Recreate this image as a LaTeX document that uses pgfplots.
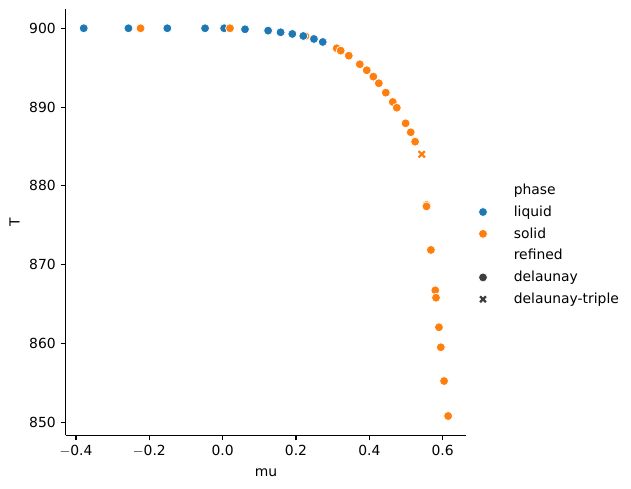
\documentclass[border=0pt]{standalone}
\usepackage{fontspec}
\setmainfont{DejaVu Sans}
\usepackage{pgfplots}
\pgfplotsset{compat=1.18}
\definecolor{sbblue}{HTML}{1F77B4}
\definecolor{sborange}{HTML}{FF7F0E}
\definecolor{sbgray}{HTML}{3D3D3D}
\begin{document}
\begin{tikzpicture}
\useasboundingbox (0,0) rectangle (454.32pt,352.08pt);
\begin{axis}[
  at={(47.16pt,38.59pt)}, anchor=south west,
  scale only axis, width=288.6pt, height=307.1pt,
  xmin=-0.4287, xmax=0.6647, ymin=848.34, ymax=902.46,
  axis x line*=bottom, axis y line*=left,
  axis line style={-, line width=0.8pt, black},
  xtick={-0.4,-0.2,0,0.2,0.4,0.6},
  ytick={850,860,870,880,890,900},
  xticklabels={$-$0.4,$-$0.2,0.0,0.2,0.4,0.6},
  /pgf/number format/assume math mode=true,
  tick align=outside, major tick length=3.5pt,
  tick style={line width=0.8pt, black},
  tick label style={font=\fontsize{10}{12}\selectfont},
  label style={font=\fontsize{10}{12}\selectfont},
  xlabel={mu}, ylabel={T},
  xlabel style={yshift=-2pt},
  legend style={draw=none, fill=none, at={(1.027,0.447)}, anchor=west,
    font=\fontsize{10}{12}\selectfont, row sep=2.6pt, inner sep=0pt},
  legend cell align=left,
  legend image code/.code={\draw[#1] plot coordinates {(0pt,0pt)}; \path[draw=none,fill=none] (-4pt,0pt) -- (20.2pt,0pt);},
  clip=false,
]
% orange point hidden behind a blue one
\addplot[only marks, mark=*, mark size=3.2pt, color=sborange, mark options={fill=sborange, draw=white, line width=0.5pt}, forget plot]
coordinates {(0.226,899.0)};
% liquid
\addplot[only marks, mark=*, mark size=3.2pt, color=sbblue, mark options={fill=sbblue, draw=white, line width=0.5pt}, forget plot]
coordinates {
(-0.379,900.0) (-0.257,900.0) (-0.151,900.0) (-0.048,900.0) (0.004,900.0)
(0.061,899.87) (0.124,899.70) (0.158,899.49) (0.190,899.28) (0.220,899.02)
(0.249,898.64) (0.273,898.26)
};
% solid delaunay
\addplot[only marks, mark=*, mark size=3.2pt, color=sborange, mark options={fill=sborange, draw=white, line width=0.5pt}, forget plot]
coordinates {
(-0.224,900.0) (0.020,900.0)
(0.311,897.46) (0.322,897.16) (0.344,896.52) (0.374,895.43) (0.393,894.67)
(0.411,893.86) (0.426,893.02) (0.445,891.83) (0.464,890.65) (0.475,889.92)
(0.499,887.94) (0.513,886.80) (0.525,885.61)
(0.556,877.58) (0.556,877.40) (0.568,871.87) (0.580,866.75) (0.582,865.81)
(0.590,862.06) (0.595,859.52) (0.604,855.24) (0.615,850.80)
};
% solid delaunay-triple
\addplot[only marks, mark=x, mark size=3.2pt, color=sborange, mark options={line width=1.6pt}, forget plot]
coordinates {(0.543,884.01)};
% legend
\addlegendimage{empty legend}\addlegendentry{phase}
\addlegendimage{only marks, mark=*, mark size=3.2pt, color=sbblue, mark options={fill=sbblue, draw=white, line width=0.5pt}}\addlegendentry{liquid}
\addlegendimage{only marks, mark=*, mark size=3.2pt, color=sborange, mark options={fill=sborange, draw=white, line width=0.5pt}}\addlegendentry{solid}
\addlegendimage{empty legend}\addlegendentry{refined}
\addlegendimage{only marks, mark=*, mark size=3.2pt, color=sbgray, mark options={fill=sbgray, draw=white, line width=0.5pt}}\addlegendentry{delaunay}
\addlegendimage{only marks, mark=x, mark size=3pt, color=sbgray, mark options={line width=1.6pt}}\addlegendentry{delaunay-triple}
\end{axis}
\end{tikzpicture}
\end{document}
